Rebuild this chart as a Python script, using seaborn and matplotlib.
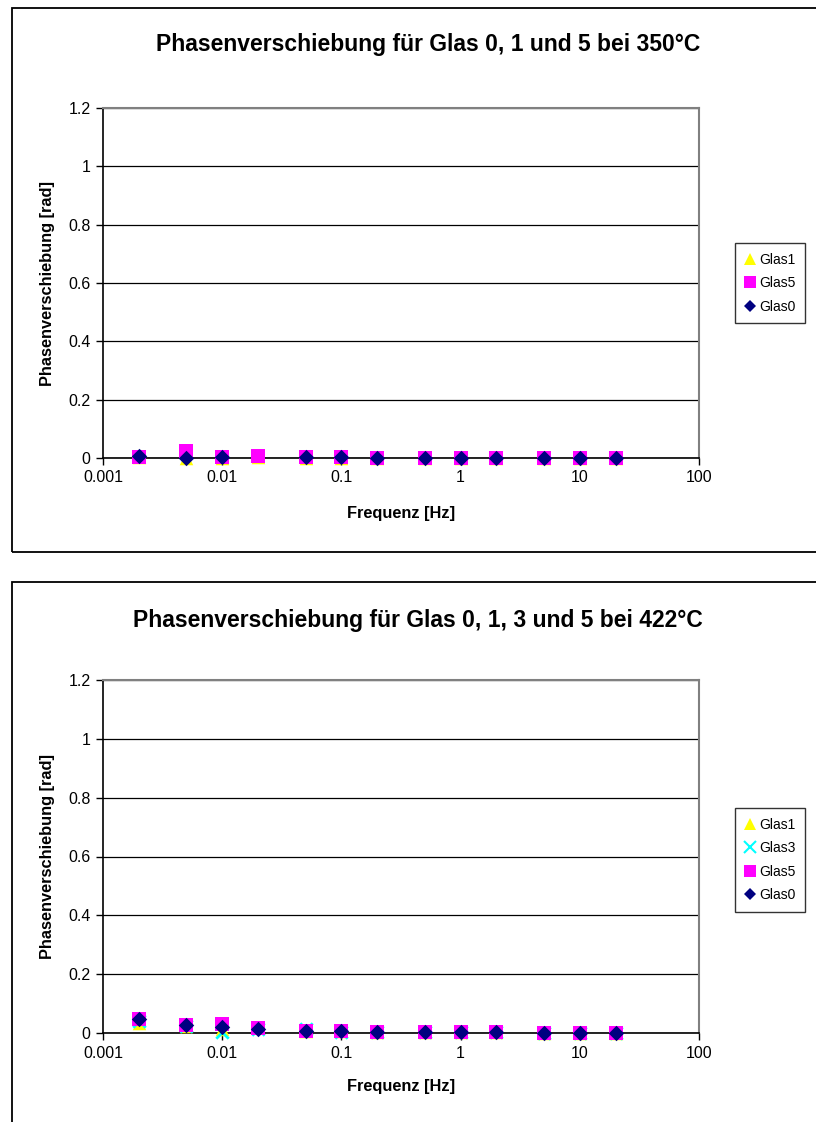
import numpy as np
import pandas as pd
import matplotlib
matplotlib.use("Agg")
import matplotlib.pyplot as plt
from matplotlib.patches import Rectangle
from matplotlib.lines import Line2D
import seaborn as sns

# Measurement frequencies [Hz]
freq = [0.002, 0.005, 0.01, 0.02, 0.05, 0.1, 0.2, 0.5, 1, 2, 5, 10, 20]

# Phase shift [rad] at 350 °C
t350_glas1 = [0.002, 0.000, 0.001, 0.002, 0.000, 0.001, 0.001, 0.000, 0.000, 0.000, 0.000, 0.000, 0.000]
t350_glas5 = [0.004, 0.025, 0.003, 0.007, 0.003, 0.002, 0.001, 0.001, 0.001, 0.001, 0.001, 0.001, 0.001]
t350_glas0 = [0.008, 0.000, 0.004, np.nan, 0.002, 0.002, 0.001, 0.001, 0.001, 0.001, 0.001, 0.001, 0.001]

# Phase shift [rad] at 422 °C
t422_glas1 = [0.035, 0.024, 0.012, 0.020, 0.007, 0.006, 0.004, 0.003, 0.002, 0.002, 0.001, 0.001, 0.001]
t422_glas3 = [0.040, 0.025, 0.002, 0.015, 0.012, 0.004, 0.003, 0.003, 0.002, 0.002, 0.001, 0.001, 0.001]
t422_glas5 = [0.048, 0.026, 0.032, 0.016, 0.007, 0.006, 0.004, 0.003, 0.002, 0.002, 0.001, 0.001, 0.001]
t422_glas0 = [0.046, 0.026, 0.019, 0.015, 0.006, 0.006, 0.004, 0.003, 0.002, 0.002, 0.001, 0.001, 0.001]

x_ticks = [0.001, 0.01, 0.1, 1, 10, 100]
x_ticklabels = ["0.001", "0.01", "0.1", "1", "10", "100"]
y_ticks = [0, 0.2, 0.4, 0.6, 0.8, 1.0, 1.2]
y_ticklabels = ["0", "0.2", "0.4", "0.6", "0.8", "1", "1.2"]

styles = {
    "Glas1": dict(marker="^", color="#FFFF00", s=95),
    "Glas3": dict(marker="x", color="#00FFFF", s=80),
    "Glas5": dict(marker="s", color="#FF00FF", s=90),
    "Glas0": dict(marker="D", color="#000080", s=62),
}

sns.set_theme(style="white")
plt.rcParams["font.family"] = ["Liberation Sans", "DejaVu Sans"]
plt.rcParams["text.color"] = "black"

W, H = 816, 1122
fig = plt.figure(figsize=(W / 100, H / 100), dpi=100)
fig.patch.set_facecolor("white")


def fx(px):
    return px / W


def fy(py):
    return 1 - py / H


# chart frames
fig.add_artist(Rectangle((fx(12), fy(552)), fx(900), fy(8) - fy(552),
                         transform=fig.transFigure, fill=False,
                         edgecolor="black", linewidth=1.3))
fig.add_artist(Rectangle((fx(12), fy(1200)), fx(900), fy(582) - fy(1200),
                         transform=fig.transFigure, fill=False,
                         edgecolor="black", linewidth=1.3))


def draw_chart(top_px, bottom_px, series, title, title_y, title_x,
               xlabel_y, legend_top):
    ax = fig.add_axes([fx(103), fy(bottom_px), fx(699) - fx(103),
                       fy(top_px) - fy(bottom_px)])
    ax.set_xscale("log")
    ax.set_xlim(0.001, 100)
    ax.set_ylim(0, 1.2)
    ax.set_yticks(y_ticks)
    ax.set_yticklabels(y_ticklabels)
    ax.set_xticks(x_ticks)
    ax.set_xticklabels(x_ticklabels)
    ax.xaxis.set_minor_locator(matplotlib.ticker.NullLocator())
    ax.tick_params(axis="both", which="major", direction="out", length=5,
                   width=1, color="black", labelsize=11.5, pad=4,
                   labelcolor="black", bottom=True, left=True)
    ax.yaxis.grid(True, color="black", linewidth=0.9)
    ax.xaxis.grid(False)
    ax.set_axisbelow(True)
    for side in ("left", "bottom"):
        ax.spines[side].set_color("black")
        ax.spines[side].set_linewidth(1.2)
    for side in ("top", "right"):
        ax.spines[side].set_color("#808080")
        ax.spines[side].set_linewidth(1.5)

    handles = []
    for name, vals in series:
        st = styles[name]
        df = pd.DataFrame({"Frequenz": freq, "Phase": vals}).dropna()
        sns.scatterplot(data=df, x="Frequenz", y="Phase", ax=ax,
                        marker=st["marker"], color=st["color"], s=st["s"],
                        linewidth=(2 if st["marker"] == "x" else 0),
                        edgecolor=st["color"], clip_on=False, zorder=3,
                        legend=False)
        handles.append(Line2D([], [], linestyle="none", marker=st["marker"],
                              color=st["color"], markeredgecolor=st["color"],
                              markersize=8.5 if st["marker"] != "D" else 6.5,
                              markeredgewidth=1.5 if st["marker"] == "x" else 0,
                              label=name))
    ax.set_xlabel("")
    ax.set_ylabel("")

    fig.text(fx(title_x), fy(title_y), title, ha="center", va="center",
             fontsize=16.5, fontweight="bold")
    fig.text(fx(401), fy(xlabel_y), "Frequenz [Hz]", ha="center",
             va="center", fontsize=11.8, fontweight="bold")
    fig.text(fx(48), fy((top_px + bottom_px) / 2), "Phasenverschiebung [rad]",
             ha="center", va="center", rotation=90, fontsize=11.8,
             fontweight="bold")

    leg = fig.legend(handles=handles, loc="upper left",
                     bbox_to_anchor=(fx(735), fy(legend_top)),
                     bbox_transform=fig.transFigure, frameon=True,
                     fancybox=False, edgecolor="black", fontsize=10,
                     handlelength=0.7, handletextpad=0.35, labelspacing=0.68,
                     borderpad=0.7, borderaxespad=0)
    leg.get_frame().set_linewidth(1.0)
    return ax


draw_chart(108, 458,
           [("Glas1", t350_glas1), ("Glas5", t350_glas5), ("Glas0", t350_glas0)],
           "Phasenverschiebung für Glas 0, 1 und 5 bei 350°C", 45, 428, 513, 243)

draw_chart(680, 1033,
           [("Glas1", t422_glas1), ("Glas3", t422_glas3),
            ("Glas5", t422_glas5), ("Glas0", t422_glas0)],
           "Phasenverschiebung für Glas 0, 1, 3 und 5 bei 422°C", 621, 418, 1087, 808)

fig.savefig("out.png", dpi=100, facecolor="white")
